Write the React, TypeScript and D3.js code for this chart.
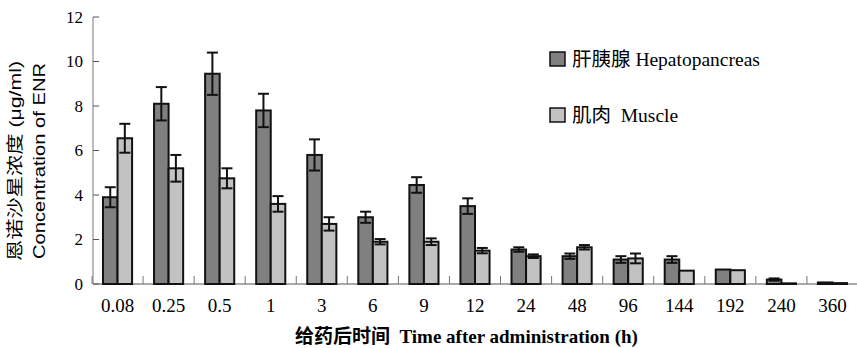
import React from 'react'
import * as d3 from 'd3'

const categories = ['0.08', '0.25', '0.5', '1', '3', '6', '9', '12', '24', '48', '96', '144', '192', '240', '360']
const hepato = [3.9, 8.1, 9.45, 7.8, 5.8, 3.0, 4.45, 3.5, 1.55, 1.25, 1.1, 1.1, 0.65, 0.2, 0.07]
const hepatoErr = [0.45, 0.75, 0.95, 0.75, 0.7, 0.25, 0.35, 0.35, 0.1, 0.12, 0.15, 0.15, 0, 0.05, 0]
const muscle = [6.55, 5.2, 4.75, 3.6, 2.7, 1.9, 1.9, 1.5, 1.25, 1.65, 1.15, 0.6, 0.62, 0.03, 0.04]
const muscleErr = [0.65, 0.6, 0.45, 0.35, 0.3, 0.12, 0.15, 0.12, 0.08, 0.1, 0.22, 0, 0, 0, 0]
const yTicks = [0, 2, 4, 6, 8, 10, 12]
const seriesNames = ['肝胰腺 Hepatopancreas', '肌肉  Muscle']
const fills = ['#808080', '#c2c2c2']

const W = 857
const H = 348
const serif = '"Liberation Serif", "Noto Sans CJK SC", serif'
const sans = '"Liberation Sans", "Noto Sans CJK SC", sans-serif'

export default function App() {
  const x0 = d3.scaleBand().domain(categories).range([92, 858]).paddingInner(0.43).paddingOuter(0.215)
  const x1 = d3.scaleBand().domain(['h', 'm']).range([0, x0.bandwidth()])
  const y = d3.scaleLinear().domain([0, 12]).range([284, 17])
  const step = x0.step()

  const series = [
    { key: 'h', vals: hepato, errs: hepatoErr, fill: fills[0] },
    { key: 'm', vals: muscle, errs: muscleErr, fill: fills[1] },
  ]

  return (
    <svg width={W} height={H} style={{ position: 'absolute', left: 0, top: 0, background: '#fff' }}>
      {/* y axis */}
      <line x1={93} x2={93} y1={y(12)} y2={y(0)} stroke="#777" strokeWidth={1} />
      {yTicks.map(t => (
        <g key={t}>
          <line x1={93} x2={99} y1={y(t)} y2={y(t)} stroke="#555" strokeWidth={1} />
          <text x={83} y={y(t)} dy="0.35em" textAnchor="end" fontFamily={serif} fontSize={17}>{t}</text>
        </g>
      ))}

      {/* x axis */}
      <line x1={93} x2={W} y1={y(0)} y2={y(0)} stroke="#555" strokeWidth={1.2} />
      {categories.map((c, i) => (
        <line key={'t' + c} x1={92 + i * step} x2={92 + i * step} y1={y(0)} y2={y(0) - 8} stroke="#777" strokeWidth={1} />
      ))}
      {categories.map(c => (
        <text key={'l' + c} x={(x0(c) as number) + x0.bandwidth() / 2} y={312} textAnchor="middle" fontFamily={serif} fontSize={19}>{c}</text>
      ))}

      {/* bars */}
      {series.map(s => categories.map((c, i) => {
        const bx = (x0(c) as number) + (x1(s.key) as number)
        const bw = x1.bandwidth()
        const v = s.vals[i]
        const e = s.errs[i]
        const cx = bx + bw / 2
        return (
          <g key={s.key + c}>
            <rect x={bx} y={y(v)} width={bw} height={y(0) - y(v)} fill={s.fill} stroke="#111" strokeWidth={2} />
            {e > 0 && (
              <g stroke="#111" strokeWidth={2}>
                <line x1={cx} x2={cx} y1={y(v + e)} y2={y(v - e)} />
                <line x1={cx - 5.5} x2={cx + 5.5} y1={y(v + e)} y2={y(v + e)} />
                <line x1={cx - 5.5} x2={cx + 5.5} y1={y(v - e)} y2={y(v - e)} />
              </g>
            )}
          </g>
        )
      }))}

      {/* legend */}
      {seriesNames.map((n, i) => (
        <g key={n} transform={`translate(550, ${52 + i * 56})`}>
          <rect x={0} y={0} width={15} height={14} fill={fills[i]} stroke="#111" strokeWidth={1.5} />
          <text x={22} y={14} fontFamily={serif} fontSize={19.5} xmlSpace="preserve">{n}</text>
        </g>
      ))}

      {/* axis titles */}
      <text x={295} y={343} fontFamily={serif} fontSize={19} fontWeight="bold" xmlSpace="preserve">给药后时间  Time after administration (h)</text>
      <g transform="translate(21, 161) rotate(-90)">
        <text x={0} y={0} textAnchor="middle" fontFamily={sans} fontSize={17} textLength={200} lengthAdjust="spacingAndGlyphs">恩诺沙星浓度 (μg/ml)</text>
      </g>
      <g transform="translate(45, 161) rotate(-90)">
        <text x={0} y={0} textAnchor="middle" fontFamily={sans} fontSize={17} textLength={196} lengthAdjust="spacingAndGlyphs">Concentration of ENR</text>
      </g>
    </svg>
  )
}
